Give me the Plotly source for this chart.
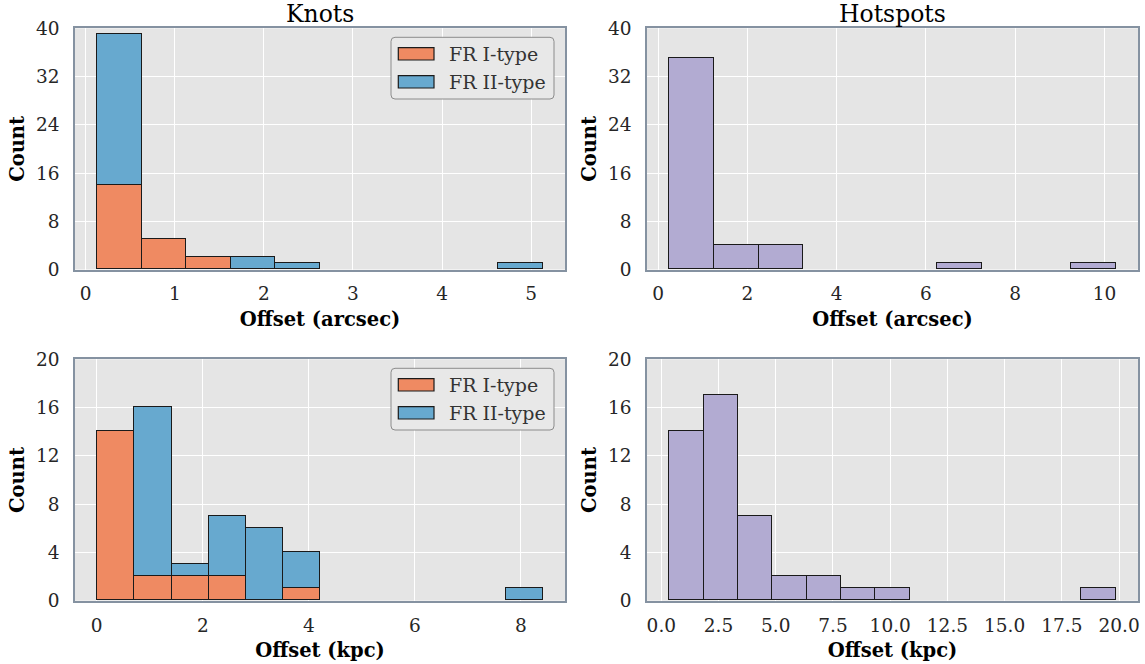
import numpy as np
import plotly.graph_objects as go

W, H = 1145, 664

# ---------------- data ----------------
# Knots, offset in arcsec (stacked histogram)
knots_arc_start, knots_arc_width = 0.13, 0.5
knots_arc_fr1 = [14, 5, 2, 0, 0, 0, 0, 0, 0, 0]
knots_arc_fr2 = [25, 0, 0, 2, 1, 0, 0, 0, 0, 1]

# Hotspots, offset in arcsec
hot_arc_start, hot_arc_width = 0.25, 1.0
hot_arc_counts = [35, 4, 4, 0, 0, 0, 1, 0, 0, 1]

# Knots, offset in kpc (stacked histogram)
knots_kpc_start, knots_kpc_width = 0.01, 0.70
knots_kpc_fr1 = [14, 2, 2, 2, 0, 1, 0, 0, 0, 0, 0, 0]
knots_kpc_fr2 = [0, 14, 1, 5, 6, 3, 0, 0, 0, 0, 0, 1]

# Hotspots, offset in kpc
hot_kpc_start, hot_kpc_width = 0.35, 1.5
hot_kpc_counts = [14, 17, 7, 2, 2, 1, 1, 0, 0, 0, 0, 0, 1]

series_names = ["FR I-type", "FR II-type"]
panel_titles = ["Knots", "Hotspots"]
x_titles = ["Offset (arcsec)", "Offset (arcsec)", "Offset (kpc)", "Offset (kpc)"]
y_title = "Count"

# ---------------- style ----------------
C_FR1 = "#ef8a62"
C_FR2 = "#67a9cf"
C_HOT = "#b2abd2"
EDGE = "#1a1a1a"
BG = "#e5e5e5"
SPINE = "#8592a1"
FONT = "DejaVu Serif"
TXT = "#262626"
TICK_SIZE = 18.5
LABEL_SIZE = 19.5
TITLE_SIZE = 23.5
LEG_SIZE = 19


def centers(start, width, n):
    edges = start + width * np.arange(n + 1)
    return (edges[:-1] + edges[1:]) / 2.0


def nz(vals):
    # empty bins are not drawn (as in a histogram)
    return [v if v else None for v in vals]


def px_x(x):
    return x / W


def px_y(y):
    return 1 - y / H


fig = go.Figure()

# panel geometry (pixels)
LX = (75, 565)
RX = (647, 1138)
TY = (28.3, 269.5)
BY = (359.3, 600.7)

axes_def = {
    1: (LX, TY),
    2: (RX, TY),
    3: (LX, BY),
    4: (RX, BY),
}

bar_line = dict(color=EDGE, width=1.2)

# panel 1
n = len(knots_arc_fr1)
xc = centers(knots_arc_start, knots_arc_width, n)
fig.add_trace(go.Bar(x=xc, y=nz(knots_arc_fr1), width=knots_arc_width, name=series_names[0],
                     marker=dict(color=C_FR1, line=bar_line), xaxis="x", yaxis="y", showlegend=False))
fig.add_trace(go.Bar(x=xc, y=nz(knots_arc_fr2), width=knots_arc_width, name=series_names[1],
                     marker=dict(color=C_FR2, line=bar_line), xaxis="x", yaxis="y", showlegend=False))
# panel 2
n = len(hot_arc_counts)
xc = centers(hot_arc_start, hot_arc_width, n)
fig.add_trace(go.Bar(x=xc, y=nz(hot_arc_counts), width=hot_arc_width, name="Hotspots",
                     marker=dict(color=C_HOT, line=bar_line), xaxis="x2", yaxis="y2", showlegend=False))
# panel 3
n = len(knots_kpc_fr1)
xc = centers(knots_kpc_start, knots_kpc_width, n)
fig.add_trace(go.Bar(x=xc, y=nz(knots_kpc_fr1), width=knots_kpc_width, name=series_names[0],
                     marker=dict(color=C_FR1, line=bar_line), xaxis="x3", yaxis="y3", showlegend=False))
fig.add_trace(go.Bar(x=xc, y=nz(knots_kpc_fr2), width=knots_kpc_width, name=series_names[1],
                     marker=dict(color=C_FR2, line=bar_line), xaxis="x3", yaxis="y3", showlegend=False))
# panel 4
n = len(hot_kpc_counts)
xc = centers(hot_kpc_start, hot_kpc_width, n)
fig.add_trace(go.Bar(x=xc, y=nz(hot_kpc_counts), width=hot_kpc_width, name="Hotspots",
                     marker=dict(color=C_HOT, line=bar_line), xaxis="x4", yaxis="y4", showlegend=False))


def xrange_of(start, width, n):
    lo, hi = start, start + width * n
    m = 0.05 * (hi - lo)
    return [lo - m, hi + m]


xranges = {
    1: xrange_of(knots_arc_start, knots_arc_width, len(knots_arc_fr1)),
    2: xrange_of(hot_arc_start, hot_arc_width, len(hot_arc_counts)),
    3: xrange_of(knots_kpc_start, knots_kpc_width, len(knots_kpc_fr1)),
    4: xrange_of(hot_kpc_start, hot_kpc_width, len(hot_kpc_counts)),
}
xdticks = {1: 1, 2: 2, 3: 2, 4: 2.5}
yranges = {1: [0, 40], 2: [0, 40], 3: [0, 20], 4: [0, 20]}
ydticks = {1: 8, 2: 8, 3: 4, 4: 4}

layout = dict(
    template="none",
    width=W, height=H, autosize=False,
    margin=dict(l=0, r=0, t=0, b=0, autoexpand=False),
    paper_bgcolor="white", plot_bgcolor=BG,
    barmode="stack", bargap=0,
    font=dict(family=FONT, size=17, color=TXT),
    showlegend=False,
)

for i in range(1, 5):
    (x0, x1), (y0, y1) = axes_def[i]
    sfx = "" if i == 1 else str(i)
    tickfmt = ".1f" if i == 4 else ""
    layout["xaxis" + sfx] = dict(
        domain=[px_x(x0), px_x(x1)], anchor="y" + sfx, range=xranges[i],
        dtick=xdticks[i], tick0=0, tickformat=tickfmt, automargin=False,
        showgrid=True, gridcolor="white", gridwidth=1.4, zeroline=False,
        showline=True, mirror=True, linecolor=SPINE, linewidth=1.5,
        ticks="outside", ticklen=7, tickcolor="rgba(0,0,0,0)",
        tickfont=dict(family=FONT, size=TICK_SIZE, color=TXT),
        title=dict(text="<b>" + x_titles[i - 1] + "</b>", standoff=9,
                   font=dict(family=FONT, size=LABEL_SIZE, color="black")),
    )
    layout["yaxis" + sfx] = dict(
        domain=[px_y(y1), px_y(y0)], anchor="x" + sfx, range=yranges[i],
        dtick=ydticks[i], tick0=0, automargin=False,
        showgrid=True, gridcolor="white", gridwidth=1.4, zeroline=False,
        showline=True, mirror=True, linecolor=SPINE, linewidth=1.5,
        ticks="outside", ticklen=10, tickcolor="rgba(0,0,0,0)",
        tickfont=dict(family=FONT, size=TICK_SIZE, color=TXT),
        title=dict(text="<b>" + y_title + "</b>", standoff=6,
                   font=dict(family=FONT, size=LABEL_SIZE, color="black")),
    )

fig.update_layout(**layout)

# panel titles
for (x0, x1), t in [(LX, panel_titles[0]), (RX, panel_titles[1])]:
    fig.add_annotation(x=px_x((x0 + x1) / 2), y=px_y(14), xref="paper", yref="paper",
                       text=t, showarrow=False, xanchor="center", yanchor="middle",
                       font=dict(family=FONT, size=TITLE_SIZE, color="black"))


# legends (drawn as patches + text, matching the reference legend boxes)
def rounded_rect(x0, y0, x1, y1, r):
    X = lambda v: px_x(v)
    Y = lambda v: px_y(v)
    p = (f"M {X(x0 + r)} {Y(y0)} L {X(x1 - r)} {Y(y0)} Q {X(x1)} {Y(y0)} {X(x1)} {Y(y0 + r)} "
         f"L {X(x1)} {Y(y1 - r)} Q {X(x1)} {Y(y1)} {X(x1 - r)} {Y(y1)} "
         f"L {X(x0 + r)} {Y(y1)} Q {X(x0)} {Y(y1)} {X(x0)} {Y(y1 - r)} "
         f"L {X(x0)} {Y(y0 + r)} Q {X(x0)} {Y(y0)} {X(x0 + r)} {Y(y0)} Z")
    return p


for top in (TY[0], BY[0]):
    off = top - TY[0]
    fig.add_shape(type="path", path=rounded_rect(391, 37.3 + off, 554, 99 + off, 4),
                  xref="paper", yref="paper", fillcolor="#e8e8e8",
                  line=dict(color="#8c8c8c", width=1), layer="above")
    for k, (name, col) in enumerate(zip(series_names, [C_FR1, C_FR2])):
        py0 = 47.7 + off + k * 28
        fig.add_shape(type="rect", x0=px_x(398.3), x1=px_x(434), y0=px_y(py0), y1=px_y(py0 + 12.3),
                      xref="paper", yref="paper", fillcolor=col,
                      line=dict(color=EDGE, width=1.2), layer="above")
        fig.add_annotation(x=px_x(447), y=px_y(py0 + 6.2), xref="paper", yref="paper",
                           text=name, showarrow=False, xanchor="left", yanchor="middle",
                           font=dict(family=FONT, size=LEG_SIZE, color="#333333"))

fig.write_html("out.html", config={"displayModeBar": False},
               post_script="document.body.style.margin='0px';")
